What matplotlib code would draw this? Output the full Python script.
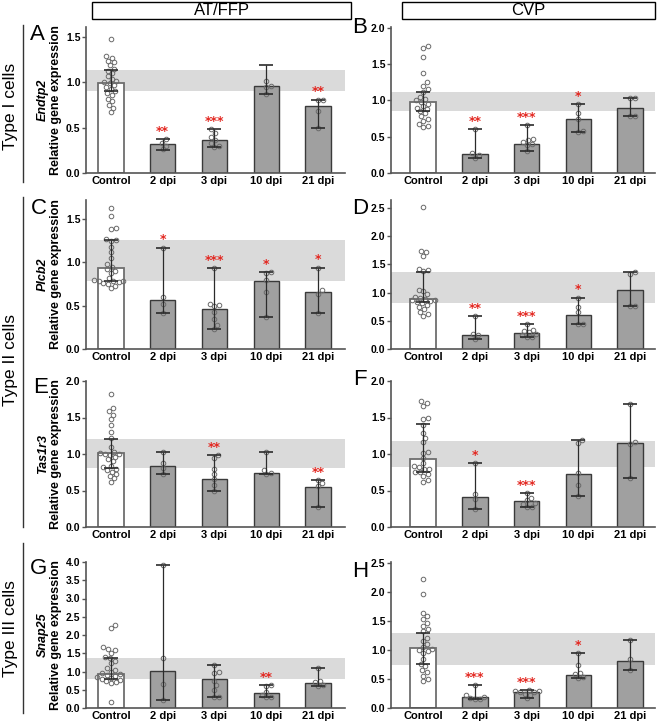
import numpy as np
import matplotlib.pyplot as plt
from matplotlib.patches import Rectangle
from matplotlib.lines import Line2D

plt.rcParams['font.family'] = ['Liberation Sans', 'DejaVu Sans']

W, H = 658, 723

groups = ["Control", "2 dpi", "3 dpi", "10 dpi", "21 dpi"]
columns = ["AT/FFP", "CVP"]
row_labels = ["Type I cells", "Type II cells", "Type III cells"]
genes = ["Endtp2", "Plcb2", "Tas1r3", "Snap25"]

# ---- panel A: Endtp2, AT/FFP
a_med = [0.99, 0.32, 0.36, 0.96, 0.74]
a_lo = [0.90, 0.25, 0.29, 0.87, 0.50]
a_hi = [1.14, 0.37, 0.48, 1.19, 0.81]
a_band = (0.90, 1.14)
a_stars = ["", "**", "***", "", "**"]
a_pts = [
    [1.48, 1.29, 1.27, 1.24, 1.22, 1.19, 1.15, 1.13, 1.10, 1.07, 1.04, 1.02, 1.00,
     0.99, 0.97, 0.95, 0.93, 0.90, 0.88, 0.86, 0.82, 0.79, 0.75, 0.72, 0.67],
    [0.37, 0.33, 0.30, 0.26],
    [0.48, 0.44, 0.40, 0.36, 0.33, 0.30, 0.29],
    [1.02, 0.96, 0.95, 0.87],
    [0.81, 0.81, 0.68, 0.50],
]

# ---- panel B: Endtp2, CVP
b_med = [0.975, 0.26, 0.40, 0.74, 0.90]
b_lo = [0.85, 0.21, 0.30, 0.56, 0.78]
b_hi = [1.12, 0.60, 0.66, 0.95, 1.03]
b_band = (0.85, 1.12)
b_stars = ["", "**", "***", "*", ""]
b_pts = [
    [1.75, 1.72, 1.60, 1.37, 1.25, 1.20, 1.15, 1.12, 1.05, 1.02, 1.00, 0.98, 0.95,
     0.92, 0.90, 0.88, 0.85, 0.82, 0.78, 0.75, 0.72, 0.68, 0.65, 0.64],
    [0.60, 0.27, 0.25, 0.21],
    [0.66, 0.47, 0.46, 0.43, 0.40, 0.38, 0.30],
    [0.95, 0.82, 0.74, 0.58, 0.56],
    [1.03, 1.03, 0.78, 0.78],
]

# ---- panel C: Plcb2, AT/FFP
c_med = [0.935, 0.57, 0.46, 0.79, 0.66]
c_lo = [0.79, 0.41, 0.23, 0.37, 0.42]
c_hi = [1.26, 1.17, 0.93, 0.89, 0.94]
c_band = (0.79, 1.26)
c_stars = ["", "*", "***", "*", "*"]
c_pts = [
    [1.63, 1.53, 1.40, 1.39, 1.27, 1.26, 1.25, 1.18, 1.12, 1.05, 0.98, 0.95, 0.92,
     0.90, 0.88, 0.82, 0.80, 0.79, 0.78, 0.78, 0.77, 0.76, 0.75, 0.73, 0.70],
    [1.17, 0.60, 0.52, 0.41],
    [0.93, 0.52, 0.51, 0.50, 0.43, 0.35, 0.28, 0.23],
    [0.89, 0.88, 0.80, 0.66, 0.37],
    [0.94, 0.68, 0.64, 0.42],
]

# ---- panel D: Plcb2, CVP
d_med = [0.88, 0.25, 0.28, 0.61, 1.05]
d_lo = [0.83, 0.18, 0.22, 0.44, 0.76]
d_hi = [1.36, 0.58, 0.44, 0.91, 1.36]
d_band = (0.81, 1.36)
d_stars = ["", "**", "***", "*", ""]
d_pts = [
    [2.52, 1.73, 1.71, 1.64, 1.42, 1.40, 1.38, 1.05, 1.02, 0.97, 0.93, 0.91, 0.89,
     0.87, 0.86, 0.85, 0.84, 0.82, 0.78, 0.75, 0.71, 0.65, 0.62, 0.58],
    [0.58, 0.27, 0.25, 0.18],
    [0.44, 0.33, 0.32, 0.30, 0.26, 0.24, 0.22, 0.22],
    [0.91, 0.75, 0.65, 0.45, 0.44],
    [1.37, 1.33, 0.77, 0.76],
]

# ---- panel E: Tas1r3, AT/FFP
e_med = [1.01, 0.84, 0.66, 0.74, 0.55]
e_lo = [0.81, 0.72, 0.50, 0.72, 0.28]
e_hi = [1.20, 1.03, 0.99, 1.03, 0.64]
e_band = (0.81, 1.20)
e_stars = ["", "", "**", "", "**"]
e_pts = [
    [1.82, 1.63, 1.59, 1.54, 1.48, 1.40, 1.30, 1.22, 1.10, 1.03, 1.01, 1.00, 1.00,
     0.99, 0.96, 0.93, 0.90, 0.84, 0.82, 0.80, 0.78, 0.76, 0.73, 0.70, 0.67, 0.62],
    [1.03, 0.88, 0.81, 0.72],
    [0.99, 0.95, 0.80, 0.73, 0.66, 0.58, 0.50],
    [1.03, 0.78, 0.74, 0.72],
    [0.64, 0.60, 0.56, 0.28],
]

# ---- panel F: Tas1r3, CVP
f_med = [0.93, 0.41, 0.35, 0.73, 1.15]
f_lo = [0.75, 0.25, 0.27, 0.42, 0.67]
f_hi = [1.41, 0.87, 0.46, 1.19, 1.68]
f_band = (0.82, 1.18)
f_stars = ["", "*", "***", "", ""]
f_pts = [
    [1.72, 1.70, 1.66, 1.50, 1.48, 1.40, 1.29, 1.22, 1.16, 1.03, 1.02, 0.94, 0.87,
     0.83, 0.82, 0.80, 0.79, 0.76, 0.75, 0.73, 0.70, 0.65, 0.62],
    [0.87, 0.45, 0.38, 0.25],
    [0.46, 0.40, 0.37, 0.33, 0.31, 0.28, 0.27],
    [1.19, 1.15, 0.74, 0.58, 0.42],
    [1.68, 1.17, 1.14, 0.67],
]

# ---- panel G: Snap25, AT/FFP
g_med = [0.93, 1.01, 0.79, 0.41, 0.69]
g_lo = [0.79, 0.22, 0.29, 0.29, 0.61]
g_hi = [1.36, 3.93, 1.19, 0.63, 1.09]
g_band = (0.79, 1.36)
g_stars = ["", "", "", "**", ""]
g_pts = [
    [2.28, 2.20, 1.68, 1.63, 1.58, 1.52, 1.40, 1.36, 1.30, 1.22, 1.10, 1.05, 1.00,
     0.95, 0.92, 0.90, 0.88, 0.85, 0.82, 0.80, 0.78, 0.75, 0.72, 0.68, 0.17],
    [3.93, 1.36, 0.67, 0.22],
    [1.19, 1.00, 0.95, 0.75, 0.62, 0.50, 0.30, 0.29],
    [0.63, 0.60, 0.45, 0.35, 0.30, 0.29],
    [1.09, 0.74, 0.72, 0.63, 0.61],
]

# ---- panel H: Snap25, CVP
h_med = [1.04, 0.19, 0.27, 0.57, 0.81]
h_lo = [0.76, 0.16, 0.17, 0.51, 0.66]
h_hi = [1.30, 0.39, 0.31, 0.95, 1.17]
h_band = (0.75, 1.30)
h_stars = ["", "***", "***", "*", ""]
h_pts = [
    [2.22, 1.96, 1.64, 1.58, 1.53, 1.47, 1.42, 1.37, 1.33, 1.20, 1.15, 1.10, 1.05,
     1.02, 1.00, 0.98, 0.95, 0.85, 0.76, 0.72, 0.65, 0.62, 0.56, 0.50, 0.46],
    [0.39, 0.22, 0.19, 0.17, 0.16, 0.15],
    [0.31, 0.30, 0.29, 0.28, 0.27, 0.25, 0.23, 0.17],
    [0.95, 0.75, 0.60, 0.58, 0.53, 0.51],
    [1.17, 0.85, 0.66],
]

panels = [
    ("A", a_med, a_lo, a_hi, a_band, a_stars, a_pts, 1.61, 1.5),
    ("B", b_med, b_lo, b_hi, b_band, b_stars, b_pts, 2.01, 2.0),
    ("C", c_med, c_lo, c_hi, c_band, c_stars, c_pts, 1.72, 1.5),
    ("D", d_med, d_lo, d_hi, d_band, d_stars, d_pts, 2.64, 2.5),
    ("E", e_med, e_lo, e_hi, e_band, e_stars, e_pts, 2.0, 2.0),
    ("F", f_med, f_lo, f_hi, f_band, f_stars, f_pts, 2.0, 2.0),
    ("G", g_med, g_lo, g_hi, g_band, g_stars, g_pts, 4.0, 4.0),
    ("H", h_med, h_lo, h_hi, h_band, h_stars, h_pts, 2.52, 2.5),
]

# layout in pixels
col_x = [(86, 345), (391, 655)]
col_xlim = [(-0.48, 4.52), (-0.62, 4.48)]
row_y = [(27, 173), (200, 349), (381, 527), (562, 708)]
letter_pos = [(30, 40), (352, 33), (31, 214), (352, 214),
              (33, 393), (353, 385), (30, 574), (352, 577)]

STAR = "#e3261f"
BAR_GREY = "#a0a0a0"
BAND = "#dadada"
SPINE = "#555555"


def fx(px):
    return px / W


def fy(py):
    return 1 - py / H


def swarm(vals, ppx, ppy, d=4.8):
    vals = np.asarray(vals, float)
    placed = []
    offs = np.zeros(len(vals))
    cands = [0.0]
    for k in range(1, 80):
        cands += [k * 0.5, -k * 0.5]
    for i in np.argsort(vals):
        y = vals[i] * ppy
        for c in cands:
            if all((c - px) ** 2 + (y - py) ** 2 >= d * d for px, py in placed):
                break
        placed.append((c, y))
        offs[i] = c / ppx
    return offs


fig = plt.figure(figsize=(W / 100, H / 100), dpi=100)

for k, (letter, med, lo, hi, band, stars, pts, ytop, ymax) in enumerate(panels):
    r, c = divmod(k, 2)
    x0, x1 = col_x[c]
    y0, y1 = row_y[r]
    ax = fig.add_axes([fx(x0), fy(y1), (x1 - x0) / W, (y1 - y0) / H])
    xlim = col_xlim[c]
    ax.set_xlim(*xlim)
    ax.set_ylim(0, ytop)
    ppx = (x1 - x0) / (xlim[1] - xlim[0])
    ppy = (y1 - y0) / ytop

    ax.axhspan(band[0], band[1], color=BAND, zorder=0, lw=0)
    x = np.arange(len(groups))
    ax.bar(x[:1], med[:1], width=0.49, color="white", edgecolor="#6e6e6e",
           linewidth=1.3, zorder=1)
    ax.bar(x[1:], med[1:], width=0.49, color=BAR_GREY, edgecolor="#3a3a3a",
           linewidth=1.0, zorder=1)
    for i, p in enumerate(pts):
        off = swarm(p, ppx, ppy)
        ax.plot(i + off, p, "o", ms=3.3, mfc="none", mec="#6a6a6a", mew=0.7,
                zorder=3, clip_on=False)
    med_a = np.array(med)
    ax.errorbar(x, med_a, yerr=[med_a - np.array(lo), np.array(hi) - med_a],
                fmt="none", ecolor="#2b2b2b", elinewidth=0.9, capsize=5,
                capthick=1.2, zorder=4)
    for i, s in enumerate(stars):
        if s:
            ax.annotate(s, (i, hi[i]), xytext=(0, 3), textcoords="offset points",
                        ha="center", va="baseline", color=STAR, fontsize=9,
                        fontweight="bold", family="DejaVu Sans", zorder=5)

    ax.set_yticks(np.arange(0, ymax + 0.01, 0.5))
    ax.set_yticklabels([f"{v:.1f}" for v in np.arange(0, ymax + 0.01, 0.5)])
    ax.set_xticks(x)
    ax.set_xticklabels(groups)
    for s in ["top", "right"]:
        ax.spines[s].set_visible(False)
    for s in ["left", "bottom"]:
        ax.spines[s].set_color(SPINE)
        ax.spines[s].set_linewidth(1.2)
    ax.tick_params(axis="y", length=3, width=1, color=SPINE, pad=1,
                   labelsize=7.5)
    ax.tick_params(axis="x", length=0, pad=2.5, labelsize=8)
    for t in ax.get_xticklabels() + ax.get_yticklabels():
        t.set_fontweight("bold")

    lx, ly = letter_pos[k]
    fig.text(fx(lx), fy(ly), letter, fontsize=16, ha="left", va="baseline")

    if c == 0:
        yc = fy((y0 + y1) / 2)
        fig.text(fx(43), yc, genes[r], rotation=90, ha="center", va="center",
                 fontsize=9, fontweight="bold", style="italic")
        fig.text(fx(56), yc, "Relative gene expression", rotation=90,
                 ha="center", va="center", fontsize=9, fontweight="bold")

# column headers
for (bx0, bx1), name in zip([(92, 351), (402, 655)], columns):
    fig.add_artist(Rectangle((fx(bx0), fy(19)), (bx1 - bx0) / W, 17 / H,
                             transform=fig.transFigure, fill=False,
                             edgecolor="black", linewidth=1))
    fig.text(fx((bx0 + bx1) / 2), fy(10.5), name, ha="center", va="center",
             fontsize=12)

# row labels with lines
for (ly0, ly1), yc, name in zip([(25, 182), (197, 527), (543, 713)],
                                [106, 360, 629], row_labels):
    fig.add_artist(Line2D([fx(23), fx(23)], [fy(ly0), fy(ly1)],
                          transform=fig.transFigure, color="#333333", lw=1))
    fig.text(fx(11), fy(yc), name, rotation=90, ha="center", va="center",
             fontsize=12.5)

fig.savefig("out.png", dpi=100)
